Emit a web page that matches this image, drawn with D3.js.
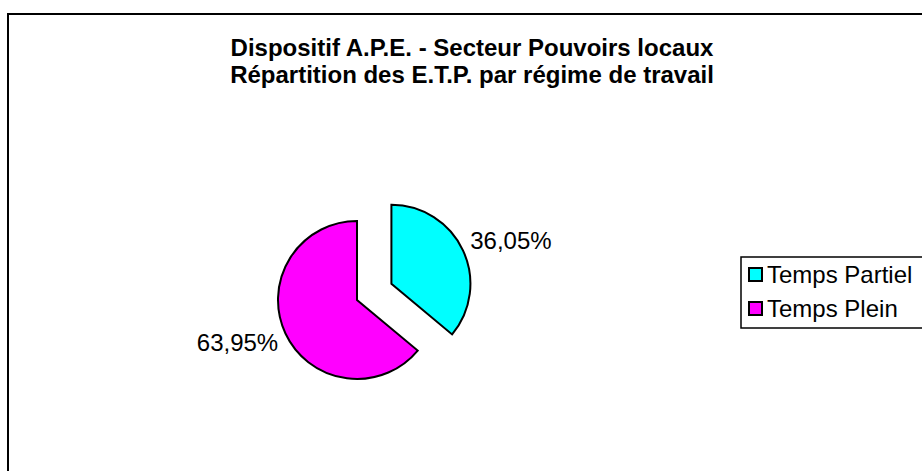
<!DOCTYPE html>
<html>
<head>
<meta charset="utf-8">
<script src="https://cdn.jsdelivr.net/npm/d3@7"></script>
<style>
  body { margin: 0; background: #fff; }
  svg { display: block; font-family: Arial, "Liberation Sans", sans-serif; }
</style>
</head>
<body>
<script>
// chart data
let titleLines = ["Dispositif A.P.E. - Secteur Pouvoirs locaux", "Répartition des E.T.P. par régime de travail"]
let categories = ["Temps Partiel", "Temps Plein"]
let values = [36.05, 63.95]
let colors = ["#00ffff", "#ff00ff"]

let w = 922
let h = 471
let r = 79
let cx = 357
let cy = 300
let explode = 38

let svg = d3.select("body")
            .append("svg")
                .attr("width", w)
                .attr("height", h)

// outer chart frame (runs past the right and bottom edges)
svg.append("rect")
    .attr("x", 8)
    .attr("y", 14)
    .attr("width", 1000)
    .attr("height", 1000)
    .attr("fill", "#fff")
    .attr("stroke", "#000")
    .attr("stroke-width", 2)

let title = svg.append("text")
                .attr("text-anchor", "middle")
                .attr("font-weight", "bold")
                .attr("font-size", "24px")

title.selectAll("tspan")
    .data(titleLines)
    .enter()
    .append("tspan")
        .attr("x", 472)
        .attr("y", (d, i) => 56 + i * 27)
        .text((d) => d)

let pie = d3.pie().sort(null).value((d) => d)
let arcs = pie(values)

let arc = d3.arc().innerRadius(0).outerRadius(r)

let fmt = (v) => v.toFixed(2).replace(".", ",") + "%"

// explode only the first slice
let shift = (d, i) => {
    if (i > 0) return [0, 0]
    let a = (d.startAngle + d.endAngle) / 2
    return [Math.sin(a) * explode, -Math.cos(a) * explode]
}

let slices = svg.selectAll("g.slice")
                .data(arcs)
                .enter()
                .append("g")
                    .attr("class", "slice")
                    .attr("transform", (d, i) => {
                        let s = shift(d, i)
                        return "translate(" + (cx + s[0]) + "," + (cy + s[1]) + ")"
                    })

slices.append("path")
    .attr("d", arc)
    .attr("fill", (d, i) => colors[i])
    .attr("stroke", "#000")
    .attr("stroke-width", 2)
    .attr("stroke-linejoin", "miter")

slices.append("text")
    .attr("font-size", "24px")
    .attr("text-anchor", (d) => ((d.startAngle + d.endAngle) / 2 < Math.PI ? "start" : "end"))
    .attr("transform", (d) => {
        let a = (d.startAngle + d.endAngle) / 2
        let lr = r + 8
        let dy = Math.cos(a) > 0 ? 2 : 14
        return "translate(" + (Math.sin(a) * lr) + "," + (-Math.cos(a) * lr + dy) + ")"
    })
    .text((d) => fmt(d.data))

// legend
let legend = svg.append("g")
                .attr("transform", "translate(741,257)")

legend.append("rect")
    .attr("width", 300)
    .attr("height", 71)
    .attr("fill", "#fff")
    .attr("stroke", "#000")
    .attr("stroke-width", 1.5)

let rows = legend.selectAll("g.row")
                .data(categories)
                .enter()
                .append("g")
                    .attr("class", "row")
                    .attr("transform", (d, i) => "translate(0," + (18 + i * 34) + ")")

rows.append("rect")
    .attr("x", 8)
    .attr("y", -7)
    .attr("width", 13)
    .attr("height", 13)
    .attr("fill", (d, i) => colors[i])
    .attr("stroke", "#000")
    .attr("stroke-width", 2)

rows.append("text")
    .attr("x", 26)
    .attr("y", 8)
    .attr("font-size", "24px")
    .text((d) => d)
</script>
</body>
</html>
